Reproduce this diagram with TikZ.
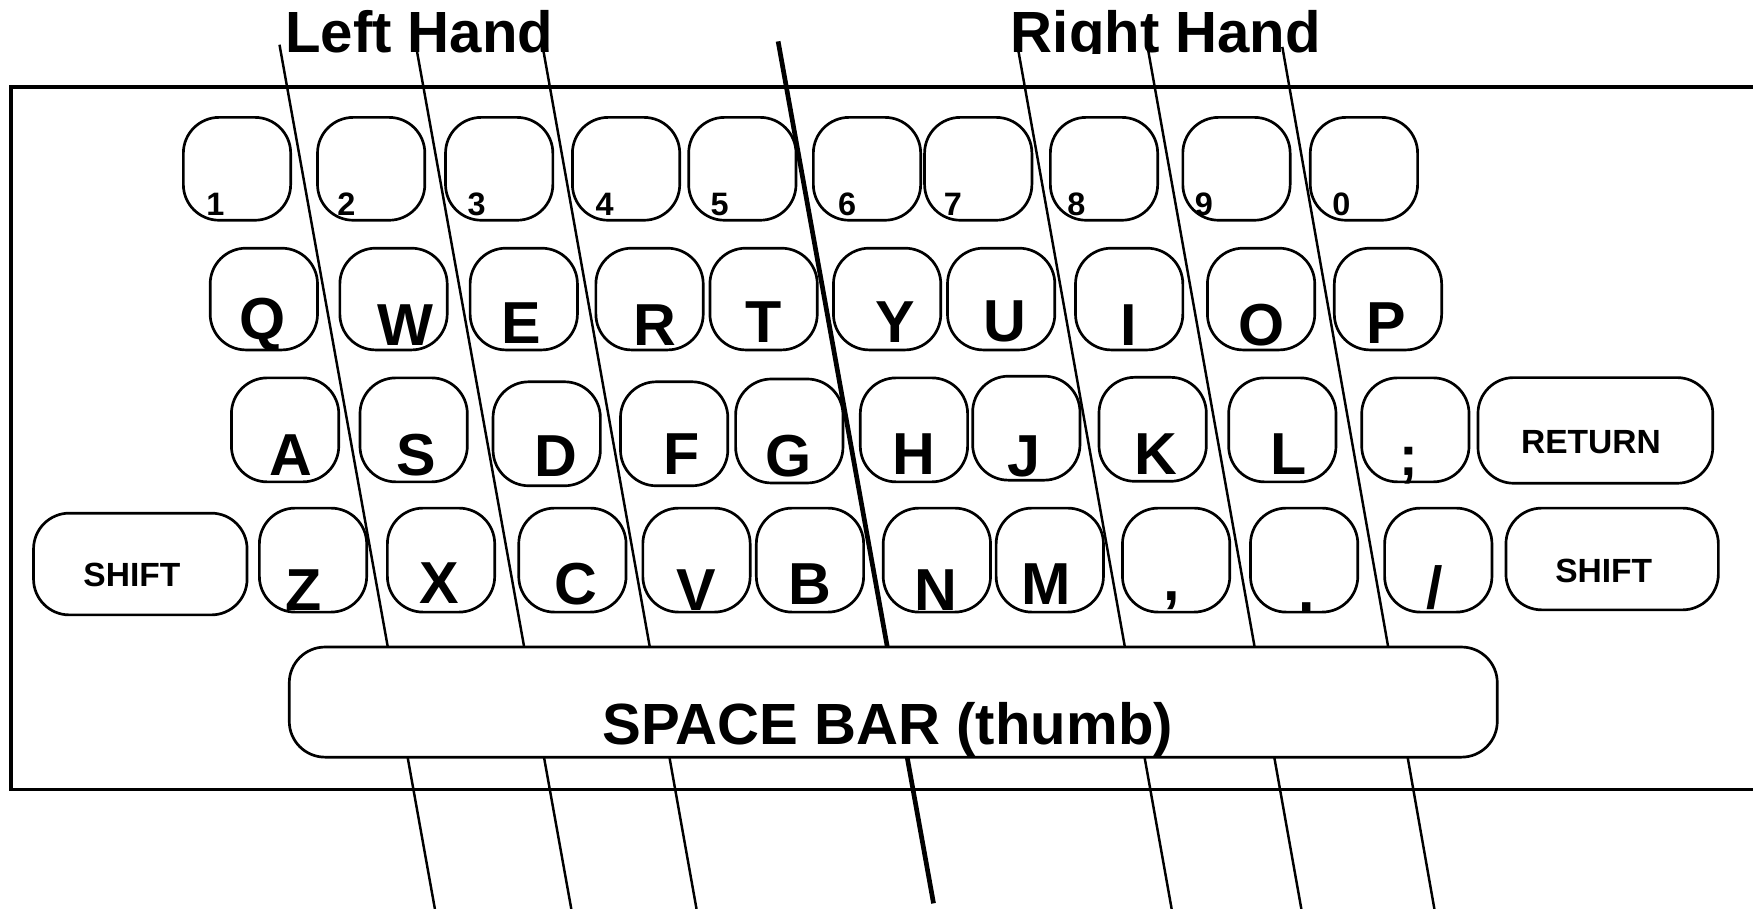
\documentclass[tikz,border=0pt]{standalone}
\usepackage{fontspec}
\setmainfont{Liberation Sans}
\begin{document}
\begin{tikzpicture}[x=1pt,y=-1pt,
  keybox/.style={draw, line width=2.4pt, rounded corners=32pt, inner sep=0pt, minimum width=96pt, minimum height=92pt},
  widekey/.style={keybox, rounded corners=32pt, minimum height=91pt},
  fingerline/.style={line width=2.2pt},
  midline/.style={line width=4.2pt},
  big/.style={font=\fontsize{53}{60}\selectfont\bfseries, inner sep=0pt, anchor=base},
  digit/.style={font=\fontsize{29}{32}\selectfont\bfseries, inner sep=0pt, anchor=base west},
  small/.style={font=\fontsize{30}{34}\selectfont\bfseries, inner sep=0pt, anchor=base},
  title/.style={font=\fontsize{52}{60}\selectfont\bfseries, inner sep=0pt, anchor=base west},
]
\useasboundingbox (0,0) rectangle (1568,813);
\fill[white] (0,0) rectangle (1568,813);
\draw[line width=3.2pt] (10,78) rectangle (1620,706);

% titles (clipped just below the baseline, as in the original)
\begin{scope}
  \clip (0,0) rectangle (1568,48);
  \node[title] (lh) at (255,47) {Left Hand};
  \node[title] (rh) at (904,47) {Right Hand};
\end{scope}

% number row
\foreach \n/\x/\dx in {1/212/184.5, 2/332/301.5, 3/446.5/418, 4/560/532.5, 5/664/635.5,
                      6/775.5/749.5, 7/875/844, 8/987.5/954.5, 9/1106/1068.5, 0/1220/1191.5}{
  \node[keybox] (k\n) at (\x,151) {};
  \node[digit] (d\n) at (\dx,193) {\n};
}

% top letter row
\foreach \n/\x/\lx/\ly in {Q/236/234.5/304, W/352/363/308.6, E/468.5/466.5/307, R/581/586/308.6,
                          T/683/683/306.5, Y/793.5/801/306.5, U/895.5/899/305.6, I/1010/1010/308.6,
                          O/1128/1128/308.6, P/1241.5/1240/307.6}{
  \node[keybox, minimum height=91pt] (k\n) at (\x,267.5) {};
  \node[big] (t\n) at (\lx,\ly) {\n};
}

% home row
\foreach \n/\x/\y/\lx/\ly in {A/255/384.5/260/425, S/370/384.5/372/425, D/489/388/497/426,
                              F/603/388/609.5/424, G/706/385.5/705/426, H/817.5/384.5/817/424,
                              J/918/383/916/426, K/1031/384/1034/424, L/1147/384.5/1152.5/424}{
  \node[keybox, minimum height=93pt] (k\n) at (\x,\y) {};
  \node[big] (t\n) at (\lx,\ly) {\n};
}
\node[keybox, minimum height=93pt] (ksemi) at (1266,384.5) {};
\node[big, font=\fontsize{50}{56}\selectfont\bfseries] (tsemi) at (1260,425) {;};
\node[widekey, minimum width=210pt, minimum height=94.5pt] (kret) at (1427,385) {};
\node[small] (tret) at (1423,406) {RETURN};

% bottom letter row
\node[widekey, minimum width=191pt] (kshl) at (125.5,504.5) {};
\node[small] (tshl) at (118,525) {SHIFT};
\foreach \n/\x/\lx/\ly in {Z/280/272/545.7, X/394.5/393/540, C/512/515/541, V/623/623/545.7,
                          B/724.5/724.5/541, N/838/837/545.7, M/939/936/541}{
  \node[keybox, minimum height=93pt] (k\n) at (\x,501) {};
  \node[big] (t\n) at (\lx,\ly) {\n};
}
\node[keybox, minimum height=93pt] (kcomma) at (1052,501) {};
\node[big] (tcomma) at (1048,537) {,};
\node[keybox, minimum height=93pt] (kdot) at (1166.5,501) {};
\node[big] (tdot) at (1169,547) {.};
\node[keybox, minimum height=93pt] (kslash) at (1286.5,501) {};
\node[big] (tslash) at (1283,544) {/};
\node[widekey, minimum width=190pt] (kshr) at (1442,500) {};
\node[small] (tshr) at (1434.5,521) {SHIFT};

% finger lines
\coordinate (a1) at (250,40);   \coordinate (b1) at (389,813);
\coordinate (a2) at (373,46);   \coordinate (b2) at (511,813);
\coordinate (a3) at (486,45);   \coordinate (b3) at (623,813);
\coordinate (am) at (696,37);   \coordinate (bm) at (835,808);
\coordinate (a5) at (911,46);   \coordinate (b5) at (1048,813);
\coordinate (a6) at (1027,45);  \coordinate (b6) at (1164,813);
\coordinate (a7) at (1147,42);  \coordinate (b7) at (1283,813);
\foreach \i in {1,2,3,5,6,7}{\draw[fingerline] (a\i) -- (b\i);}
\draw[midline] (am) -- (bm);

% space bar on top of the lines
\node[keybox, fill=white, rounded corners=32pt, minimum width=1080.5pt, minimum height=98.5pt] (space) at (799,628) {};
\node[big, font=\fontsize{52}{60}\selectfont\bfseries] (tspace) at (794,666) {SPACE BAR (thumb)};
\end{tikzpicture}
\end{document}
